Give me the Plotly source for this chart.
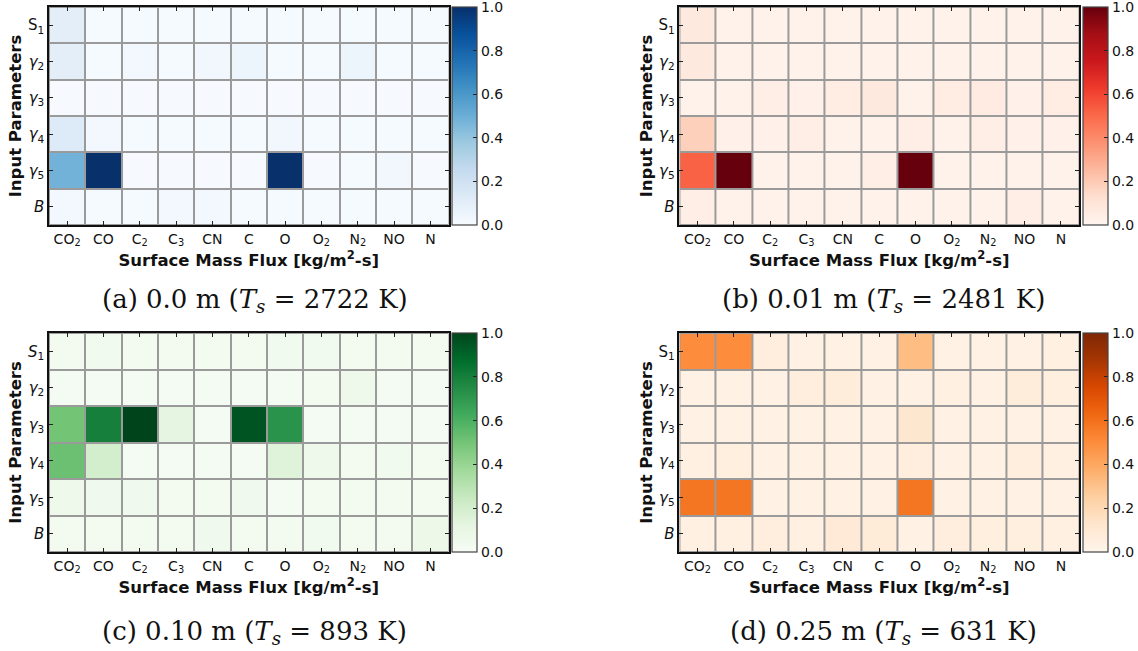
import plotly.graph_objects as go

# Row / column labels
params = ["S<sub>1</sub>", "<i>γ</i><sub>2</sub>", "<i>γ</i><sub>3</sub>",
          "<i>γ</i><sub>4</sub>", "<i>γ</i><sub>5</sub>", "<i>B</i>"]
params_c = ["<i>S</i><sub>1</sub>"] + params[1:]
species = ["CO<sub>2</sub>", "CO", "C<sub>2</sub>", "C<sub>3</sub>", "CN", "C",
           "O", "O<sub>2</sub>", "N<sub>2</sub>", "NO", "N"]

# Normalised sensitivity at each depth (rows: parameters, columns: species)
z_000 = [
    [0.10, 0.01, 0.01, 0.01, 0.01, 0.01, 0.01, 0.01, 0.01, 0.01, 0.01],
    [0.10, 0.01, 0.02, 0.01, 0.03, 0.05, 0.01, 0.01, 0.05, 0.01, 0.01],
    [0.005, 0.005, 0.005, 0.005, 0.005, 0.005, 0.005, 0.005, 0.005, 0.005, 0.005],
    [0.13, 0.02, 0.01, 0.01, 0.01, 0.01, 0.03, 0.01, 0.01, 0.01, 0.01],
    [0.48, 1.00, 0.005, 0.005, 0.005, 0.005, 1.00, 0.005, 0.01, 0.03, 0.005],
    [0.02, 0.01, 0.01, 0.02, 0.02, 0.01, 0.01, 0.01, 0.01, 0.01, 0.01],
]
z_001 = [
    [0.07, 0.02, 0.02, 0.02, 0.02, 0.02, 0.02, 0.02, 0.02, 0.02, 0.02],
    [0.07, 0.02, 0.02, 0.02, 0.02, 0.02, 0.02, 0.02, 0.02, 0.02, 0.02],
    [0.02, 0.02, 0.04, 0.03, 0.05, 0.07, 0.02, 0.05, 0.06, 0.03, 0.05],
    [0.18, 0.03, 0.03, 0.04, 0.02, 0.02, 0.04, 0.02, 0.04, 0.03, 0.03],
    [0.52, 1.00, 0.02, 0.02, 0.02, 0.04, 1.00, 0.02, 0.02, 0.02, 0.02],
    [0.04, 0.02, 0.02, 0.02, 0.02, 0.02, 0.02, 0.02, 0.02, 0.04, 0.02],
]
z_010 = [
    [0.03, 0.04, 0.03, 0.03, 0.03, 0.03, 0.04, 0.04, 0.03, 0.03, 0.03],
    [0.02, 0.02, 0.02, 0.02, 0.02, 0.02, 0.02, 0.03, 0.06, 0.02, 0.02],
    [0.50, 0.80, 1.00, 0.12, 0.02, 0.95, 0.72, 0.02, 0.02, 0.02, 0.02],
    [0.52, 0.20, 0.02, 0.02, 0.02, 0.02, 0.15, 0.06, 0.03, 0.04, 0.03],
    [0.06, 0.05, 0.05, 0.03, 0.03, 0.05, 0.02, 0.03, 0.03, 0.03, 0.03],
    [0.03, 0.03, 0.03, 0.03, 0.05, 0.03, 0.03, 0.04, 0.03, 0.03, 0.07],
]
z_025 = [
    [0.50, 0.50, 0.06, 0.03, 0.03, 0.03, 0.32, 0.03, 0.03, 0.03, 0.04],
    [0.03, 0.03, 0.03, 0.06, 0.07, 0.03, 0.03, 0.04, 0.03, 0.07, 0.05],
    [0.03, 0.03, 0.03, 0.03, 0.03, 0.03, 0.12, 0.03, 0.03, 0.03, 0.03],
    [0.04, 0.05, 0.03, 0.03, 0.03, 0.03, 0.06, 0.03, 0.03, 0.06, 0.04],
    [0.58, 0.58, 0.03, 0.03, 0.03, 0.03, 0.58, 0.03, 0.03, 0.03, 0.03],
    [0.04, 0.04, 0.06, 0.04, 0.09, 0.08, 0.03, 0.06, 0.05, 0.05, 0.04],
]

captions = [
    "(a) 0.0 m (<i>T<sub>s</sub></i> = 2722 K)",
    "(b) 0.01 m (<i>T<sub>s</sub></i> = 2481 K)",
    "(c) 0.10 m (<i>T<sub>s</sub></i> = 893 K)",
    "(d) 0.25 m (<i>T<sub>s</sub></i> = 631 K)",
]

W, H = 1138, 651

# pixel boxes of each panel: (left, right, top, bottom)
panels = [
    dict(z=z_000, cmap="Blues", box=(49, 449, 7, 225), rows=params, cap=captions[0], cap_xy=(255, 300)),
    dict(z=z_001, cmap="Reds", box=(680, 1080, 7, 225), rows=params, cap=captions[1], cap_xy=(884, 300)),
    dict(z=z_010, cmap="Greens", box=(49, 449, 333, 552), rows=params_c, cap=captions[2], cap_xy=(255, 632)),
    dict(z=z_025, cmap="Oranges", box=(680, 1080, 333, 552), rows=params, cap=captions[3], cap_xy=(884, 632)),
]

fig = go.Figure()
tick_font = dict(family="DejaVu Sans", size=14, color="#111")
ytick_font = dict(family="DejaVu Sans", size=15, color="#111")
title_font = dict(family="DejaVu Sans", size=16.5, color="#111")

for i, p in enumerate(panels, start=1):
    l, r, t, b = p["box"]
    xa = "x" if i == 1 else f"x{i}"
    ya = "y" if i == 1 else f"y{i}"
    fig.add_trace(go.Heatmap(
        z=p["z"], x=list(range(len(species))), y=list(range(len(params))),
        colorscale=p["cmap"], zmin=0, zmax=1, xgap=2, ygap=2,
        xaxis=xa, yaxis=ya,
        colorbar=dict(
            x=(r + 3) / W, xanchor="left", xref="paper",
            y=1 - (t + b) / 2 / H, yanchor="middle",
            len=(b - t) / H, lenmode="fraction", thickness=25, thicknessmode="pixels",
            outlinecolor="#444", outlinewidth=1.2,
            tickvals=[0, 0.2, 0.4, 0.6, 0.8, 1.0], ticktext=["0.0", "0.2", "0.4", "0.6", "0.8", "1.0"],
            ticks="inside", ticklen=4, tickcolor="#222", tickfont=tick_font, xpad=0, ypad=0,
            ticklabeloverflow="allow",
        ),
    ))
    xkey = "xaxis" if i == 1 else f"xaxis{i}"
    ykey = "yaxis" if i == 1 else f"yaxis{i}"
    fig.layout[xkey] = dict(
        domain=[l / W, r / W], anchor=ya, range=[-0.5, 10.5],
        tickvals=list(range(len(species))), ticktext=species,
        ticks="inside", ticklen=4, tickcolor="#222", mirror="allticks",
        showline=True, linecolor="#111", linewidth=1.5, showgrid=False, zeroline=False,
        tickfont=tick_font,
        title=dict(text="<b>Surface Mass Flux [kg/m<sup>2</sup>-s]</b>", font=title_font, standoff=0),
    )
    fig.layout[ykey] = dict(
        domain=[1 - b / H, 1 - t / H], anchor=xa, range=[5.5, -0.5],
        tickvals=list(range(len(params))), ticktext=p["rows"],
        ticks="inside", ticklen=4, tickcolor="#222", mirror="allticks",
        showline=True, linecolor="#111", linewidth=1.5, showgrid=False, zeroline=False,
        tickfont=ytick_font,
        title=dict(text="<b>Input Parameters</b>", font=title_font, standoff=2),
    )
    cx, cy = p["cap_xy"]
    fig.add_annotation(
        text=p["cap"], x=cx / W, y=1 - cy / H, xref="paper", yref="paper",
        xanchor="center", yanchor="middle", showarrow=False,
        font=dict(family="DejaVu Serif", size=26, color="#111"),
    )

fig.update_layout(
    width=W, height=H, margin=dict(l=0, r=0, t=0, b=0),
    paper_bgcolor="white", plot_bgcolor="#9a9a9a",
)

fig.write_html("out.html")
